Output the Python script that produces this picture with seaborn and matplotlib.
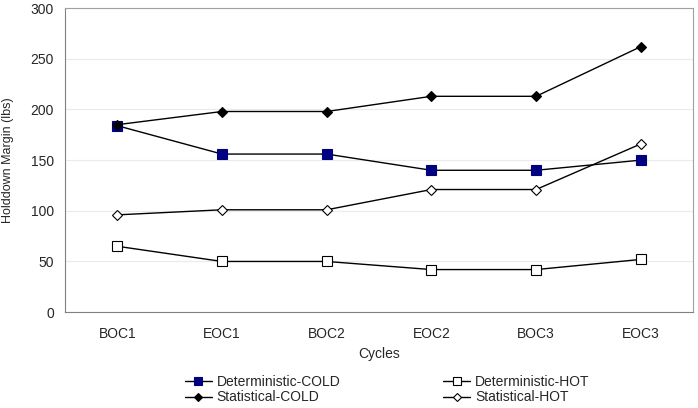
import pandas as pd
import seaborn as sns
import matplotlib.pyplot as plt

cycles = ["BOC1", "EOC1", "BOC2", "EOC2", "BOC3", "EOC3"]
det_cold = [184, 156, 156, 140, 140, 150]
stat_cold = [185, 198, 198, 213, 213, 262]
det_hot = [65, 50, 50, 42, 42, 52]
stat_hot = [96, 101, 101, 121, 121, 166]

series = {
    "Deterministic-COLD": det_cold,
    "Statistical-COLD": stat_cold,
    "Deterministic-HOT": det_hot,
    "Statistical-HOT": stat_hot,
}
styles = {
    "Deterministic-COLD": dict(marker="s", mfc="#000080", mec="#000080", ms=6.5),
    "Statistical-COLD": dict(marker="D", mfc="black", mec="black", ms=5),
    "Deterministic-HOT": dict(marker="s", mfc="white", mec="black", ms=7),
    "Statistical-HOT": dict(marker="D", mfc="white", mec="black", ms=5.5),
}

sns.set_style("white")
plt.rcParams["font.family"] = ["Liberation Sans", "DejaVu Sans"]

fig = plt.figure(figsize=(6.98, 4.08), dpi=100)
ax = fig.add_axes([0.093, 0.235, 0.9, 0.745])

for name, vals in series.items():
    df = pd.DataFrame({"Cycles": cycles, "val": vals})
    st = styles[name]
    sns.lineplot(data=df, x="Cycles", y="val", ax=ax, color="black", linewidth=1,
                 marker=st["marker"], markerfacecolor=st["mfc"], markeredgecolor=st["mec"],
                 markersize=st["ms"], markeredgewidth=0.8, label=name)

ax.set_xlim(-0.5, 5.5)
ax.set_ylim(0, 300)
ax.set_yticks(range(0, 301, 50))
ax.grid(axis="y", color="#ebebeb", linewidth=0.8)
ax.set_axisbelow(True)
for s in ax.spines.values():
    s.set_color("#a0a0a0")
ax.spines["left"].set_color("#808080")
ax.spines["bottom"].set_color("#808080")
ax.tick_params(labelsize=10, length=0)
ax.tick_params(axis="x", pad=11)
ax.tick_params(axis="y", pad=8)
ax.set_xlabel("Cycles", fontsize=10, labelpad=4)
ax.set_ylabel("Holddown Margin (lbs)", fontsize=9, labelpad=12)

handles, labels = ax.get_legend_handles_labels()
ax.legend(handles, labels, ncol=2, loc="upper center", bbox_to_anchor=(0.513, -0.165),
          frameon=False, fontsize=10, columnspacing=7.4, handlelength=1.95,
          handletextpad=0.35, labelspacing=0.12, markerscale=0.8)

fig.savefig("out.png", dpi=100)
